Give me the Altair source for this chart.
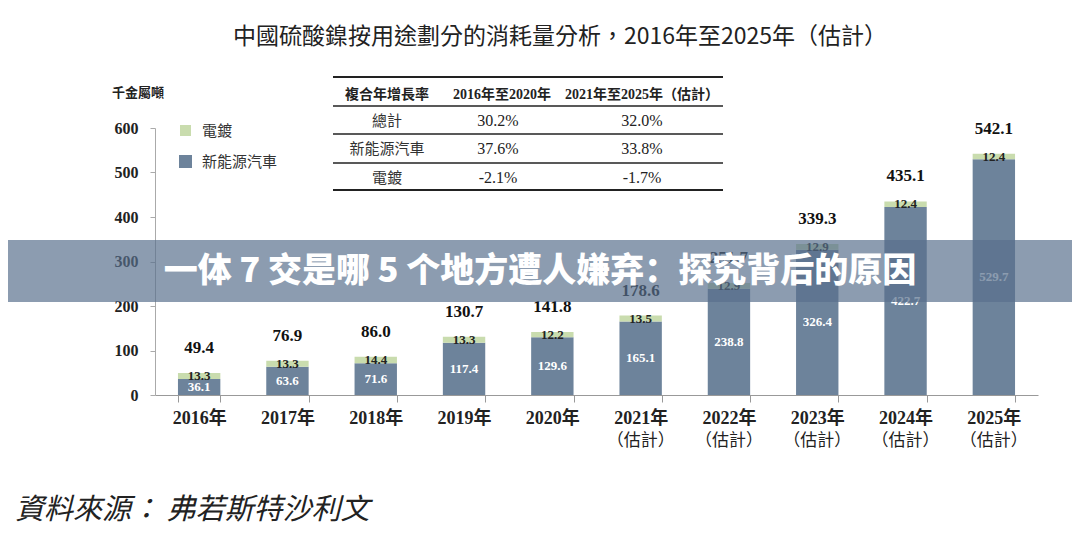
import altair as alt
import pandas as pd

# ---- data ----
years = ["2016年", "2017年", "2018年", "2019年", "2020年",
         "2021年", "2022年", "2023年", "2024年", "2025年"]
nev = [36.1, 63.6, 71.6, 117.4, 129.6, 165.1, 238.8, 326.4, 422.7, 529.7]
plating = [13.3, 13.3, 14.4, 13.3, 12.2, 13.5, 12.9, 12.9, 12.4, 12.4]
totals = [49.4, 76.9, 86.0, 130.7, 141.8, 178.6, 251.7, 339.3, 435.1, 542.1]
estimated = [False, False, False, False, False, True, True, True, True, True]

series_names = ["新能源汽車", "電鍍"]
series_colors = ["#6d839b", "#c9dcae"]

cagr_header = ["複合年增長率", "2016年至2020年", "2021年至2025年（估計）"]
cagr_rows = ["總計", "新能源汽車", "電鍍"]
cagr_2016_2020 = ["30.2%", "37.6%", "-2.1%"]
cagr_2021_2025 = ["32.0%", "33.8%", "-1.7%"]

title_text = "中國硫酸鎳按用途劃分的消耗量分析，2016年至2025年（估計）"
unit_text = "千金屬噸"
banner_text = "一体 7 交是哪 5 个地方遭人嫌弃：探究背后的原因"
source_text = "資料來源：  弗若斯特沙利文"
est_text = "（估計）"

SERIF = "Liberation Serif, Noto Sans CJK TC"
SANS = "Noto Sans CJK TC"

# ---- tables built from the lists ----
rows = []
for i, y in enumerate(years):
    rows.append({"year": y, "series": series_names[0], "start": 0.0, "end": nev[i]})
    rows.append({"year": y, "series": series_names[1], "start": nev[i], "end": nev[i] + plating[i]})
bars_df = pd.DataFrame(rows)
lab_df = pd.DataFrame({"year": years, "nev": nev, "plating": plating,
                       "total": totals, "est": estimated})
dummy = pd.DataFrame({"a": [0]})

W, H = 883, 267

xenc = alt.X("year:N", sort=years,
             scale=alt.Scale(paddingInner=0.52, paddingOuter=0.26),
             axis=alt.Axis(title=None, labelAngle=0, labelFont=SERIF,
                           labelFontSize=18, labelFontWeight="bold",
                           labelColor="#222", labelPadding=7,
                           domainColor="#999", tickColor="#999",
                           tickSize=7, tickBand="extent"))
yscale = alt.Scale(domain=[0, 600], nice=False)

bars = alt.Chart(bars_df).mark_bar().encode(
    x=xenc,
    y=alt.Y("start:Q", scale=yscale,
            axis=alt.Axis(title=None, values=[0, 100, 200, 300, 400, 500, 600],
                          grid=False, labelFont=SERIF, labelFontSize=16,
                          labelFontWeight="bold", labelColor="#222",
                          labelPadding=12, tickSize=5, domainColor="#aaa",
                          tickColor="#aaa", format="d")),
    y2="end:Q",
    color=alt.Color("series:N", scale=alt.Scale(domain=series_names, range=series_colors),
                    legend=None),
)

nev_lab = alt.Chart(lab_df).transform_calculate(mid="datum.nev / 2").mark_text(
    font=SERIF, fontSize=13, fontWeight="bold", color="white", baseline="middle"
).encode(x=alt.X("year:N", sort=years), y=alt.Y("mid:Q", scale=yscale),
         text=alt.Text("nev:Q", format=".1f"))

pl_lab = alt.Chart(lab_df).transform_calculate(mid="datum.nev + datum.plating / 2").mark_text(
    font=SERIF, fontSize=13, fontWeight="bold", color="#222", baseline="middle"
).encode(x=alt.X("year:N", sort=years), y=alt.Y("mid:Q", scale=yscale),
         text=alt.Text("plating:Q", format=".1f"))

tot_lab = alt.Chart(lab_df).mark_text(
    font=SERIF, fontSize=17, fontWeight="bold", color="#111", baseline="middle", dy=-25
).encode(x=alt.X("year:N", sort=years), y=alt.Y("total:Q", scale=yscale),
         text=alt.Text("total:Q", format=".1f"))

est_lab = alt.Chart(lab_df).transform_filter("datum.est").mark_text(
    text=est_text, font=SANS, fontSize=17, color="#222", baseline="middle"
).encode(x=alt.X("year:N", sort=years), y=alt.value(313))


def txt(s, x, y, size, weight="normal", font=SERIF, color="#222", align="center",
        style="normal"):
    return alt.Chart(dummy).mark_text(
        text=s, fontSize=size, fontWeight=weight, font=font, color=color,
        align=align, baseline="middle", fontStyle=style
    ).encode(x=alt.value(x), y=alt.value(y))


def rule(x1, x2, y, w, color="#222"):
    return alt.Chart(dummy).mark_rule(color=color, strokeWidth=w).encode(
        x=alt.value(x1), x2=alt.value(x2), y=alt.value(y))


def box(x1, x2, y1, y2, color, opacity=1.0):
    return alt.Chart(dummy).mark_rect(color=color, opacity=opacity).encode(
        x=alt.value(x1), x2=alt.value(x2), y=alt.value(y1), y2=alt.value(y2))


layers = [bars, nev_lab, pl_lab, tot_lab, est_lab]

# title, unit, legend
layers.append(txt(title_text, 405, -91, 23, font=SANS, color="#222"))
layers.append(txt(unit_text, -17, -35, 13, weight="bold", font=SANS, color="#222"))
layers.append(box(25, 36, -3, 8, series_colors[1]))
layers.append(txt(series_names[1], 47, 3, 15, color="#333", align="left"))
layers.append(box(24, 37, 27, 40, series_colors[0]))
layers.append(txt(series_names[0], 47, 34, 15, color="#333", align="left"))

# CAGR table
tx1, tx2 = 178, 568
layers.append(rule(tx1, tx2, -51, 2))
layers.append(rule(tx1, tx2, -22, 1.3))
layers.append(rule(tx1, tx2, 6, 1.3))
layers.append(rule(tx1, tx2, 35, 1.3))
layers.append(rule(tx1, tx2, 62, 2))
colx = [232, 347, 487]
for j, h in enumerate(cagr_header):
    layers.append(txt(h, colx[j], -33, 14, weight="bold"))
rowy = [-7, 21, 50]
for i in range(len(cagr_rows)):
    layers.append(txt(cagr_rows[i], colx[0], rowy[i], 15, color="#333"))
    layers.append(txt(cagr_2016_2020[i], 343, rowy[i], 16, color="#222"))
    layers.append(txt(cagr_2021_2025[i], 487, rowy[i], 16, color="#222"))

# overlay banner
layers.append(box(-160, 930, 112, 174, "#58708c", 0.69))
layers.append(txt(banner_text, 385, 144, 34, weight=900, font="Noto Sans CJK SC", color="white"))

# source
layers.append(txt(source_text, -140, 382, 29, font=SANS, color="#222", align="left",
                  style="italic"))

chart = alt.layer(*layers).properties(
    width=W, height=H,
    padding={"left": 147, "top": 120, "right": 34, "bottom": 139},
    autosize=alt.AutoSizeParams(type="none"),
).configure_view(stroke=None)

chart.save("out.html", embed_options={"renderer": "svg", "actions": False})
